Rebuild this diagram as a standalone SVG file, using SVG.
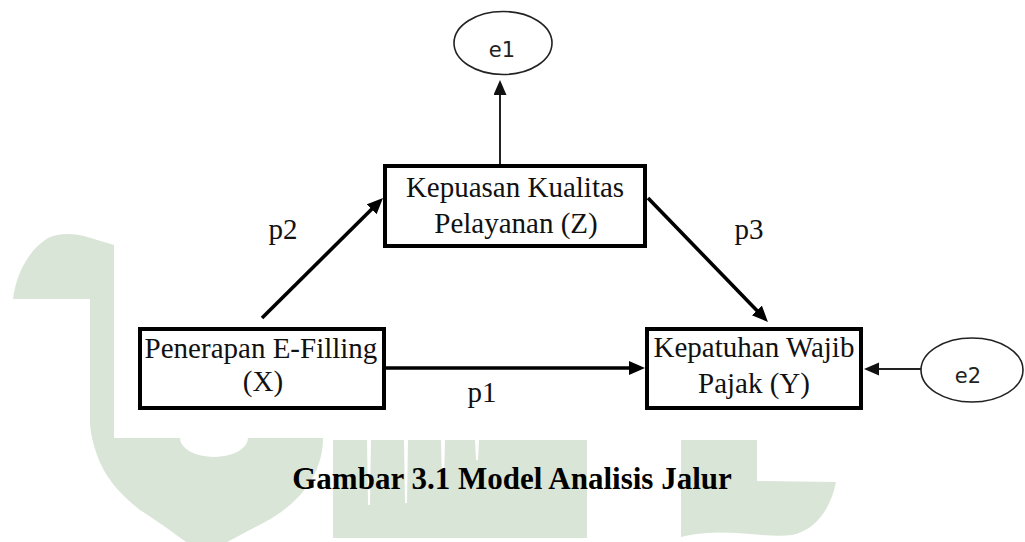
<svg xmlns="http://www.w3.org/2000/svg" width="1025" height="542" viewBox="0 0 1025 542">
<style>
.wm{fill:#d9e5d6;stroke:none}
.gap{fill:#ffffff;stroke:none}
.box{fill:#ffffff;stroke:#000;stroke-width:4}
.ell{fill:#ffffff;stroke:#222;stroke-width:1.6}
.t{font-family:"Liberation Serif","Times New Roman",serif;font-size:29px;fill:#111;text-anchor:middle}
.e{font-family:"DejaVu Sans","Liberation Sans",sans-serif;font-size:21px;fill:#222;text-anchor:middle}
.cap{font-family:"Liberation Serif","Times New Roman",serif;font-size:31px;font-weight:bold;fill:#000;text-anchor:middle}
.thick{stroke:#000;stroke-width:3.6;fill:none;marker-end:url(#ah)}
.thin{stroke:#222;stroke-width:2;fill:none;marker-end:url(#ah2)}
</style>
<defs>
<marker id="ah" markerUnits="userSpaceOnUse" markerWidth="18" markerHeight="16" refX="6" refY="7" orient="auto">
<path d="M0,0 L16,7 L0,14 z" fill="#000"/>
</marker>
<marker id="ah2" markerUnits="userSpaceOnUse" markerWidth="18" markerHeight="16" refX="5" refY="6.5" orient="auto">
<path d="M0,0 L15,6.5 L0,13 z" fill="#111"/>
</marker>
</defs>
<rect width="1025" height="542" fill="#ffffff"/>
<g id="watermark">
<path class="wm" d="M13,299 C16,275 28,250 48,238 C58,233 72,233 84,236 L114,245 L114,438 L180,438 A34,19 0 0 0 248,438 L323,438 C323,470 305,500 265,522 C240,535 220,545 205,556 C190,545 168,528 140,510 C118,493 104,475 97,455 C92,440 90,430 90,420 L90,299 Z"/>
<rect class="wm" x="333" y="440" width="254" height="98"/>
<polygon class="gap" points="367,440 371,440 370,505 368,505"/>
<polygon class="gap" points="404,440 408,440 407,503 405,503"/>
<polygon class="gap" points="441,440 445,440 444,485 442,485"/>
<polygon class="gap" points="475,440 479,440 478,460 476,460"/>
<path class="wm" d="M681,440 L757,440 L757,481 L836,482 C831,508 816,530 792,535 C762,539 728,526 681,537 Z"/>
</g>
<g id="connectors">
<line class="thick" x1="262" y1="318" x2="375.9" y2="205"/>
<line class="thick" x1="648" y1="198" x2="761" y2="314.8"/>
<line class="thick" x1="386" y1="368" x2="635" y2="368"/>
<line class="thin" x1="500" y1="164" x2="500" y2="90"/>
<line class="thin" x1="921" y1="369" x2="874" y2="369"/>
<text class="t" x="283" y="239">p2</text>
<text class="t" x="749" y="239">p3</text>
<text class="t" x="482" y="402">p1</text>
</g>
<g id="node-e1">
<ellipse class="ell" cx="503" cy="43" rx="49" ry="31.5"/>
<text class="e" x="502" y="57">e1</text>
</g>
<g id="node-e2">
<ellipse class="ell" cx="972" cy="370" rx="51" ry="32"/>
<text class="e" x="968" y="383">e2</text>
</g>
<g id="node-Z">
<rect class="box" x="385" y="166" width="260" height="80"/>
<text class="t" x="515" y="197">Kepuasan Kualitas</text>
<text class="t" x="516" y="233">Pelayanan (Z)</text>
</g>
<g id="node-X">
<rect class="box" x="140" y="329" width="244" height="79"/>
<text class="t" x="261" y="358">Penerapan E-Filling</text>
<text class="t" x="263" y="391">(X)</text>
</g>
<g id="node-Y">
<rect class="box" x="647" y="329" width="214" height="79"/>
<text class="t" x="754" y="357">Kepatuhan Wajib</text>
<text class="t" x="754" y="393">Pajak (Y)</text>
</g>
<text class="cap" x="512" y="489">Gambar 3.1 Model Analisis Jalur</text>
</svg>
